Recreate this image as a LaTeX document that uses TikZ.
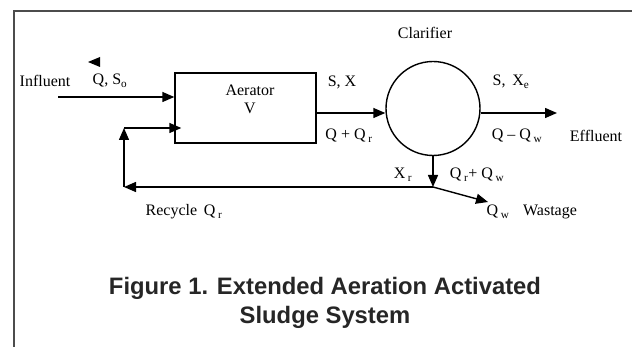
\documentclass[tikz,border=0pt]{standalone}
\usepackage{fontspec}
\setmainfont{Liberation Serif}
\newfontfamily\titlefont{Liberation Sans}
\usetikzlibrary{arrows.meta}
\tikzset{
  flow/.style={-{Triangle[length=12pt,width=10pt]}, line width=1.4pt},
  lbl/.style={font=\fontsize{16}{18}\selectfont, inner sep=0pt},
}
\begin{document}
\begin{tikzpicture}[x=1pt,y=-1pt]
\useasboundingbox (0,0) rectangle (632,347);
\draw[line width=1.8pt, black!70] (14,347) -- (14,11) -- (632,11);
% units
\node[draw, line width=1.4pt, minimum width=141pt, minimum height=70pt] (aer) at (245.5,108) {};
\node[lbl, align=center] (aertxt) at (250,99) {Aerator\\V};
\node[draw, circle, line width=1.4pt, minimum size=94pt, inner sep=0pt] (clar) at (433,108.5) {};
\node[lbl] (clartxt) at (425,33) {Clarifier};
% labels
\node[lbl] (inftxt) at (45,81) {Influent};
\node[lbl] (qs) at (110,81) {Q, S\textsubscript{o}};
\node[lbl] (sx) at (342,82) {S, X};
\node[lbl] (qqr) at (349,136) {Q + Q\,\textsubscript{r}};
\node[lbl] (sxe) at (511,82) {S,\, X\textsubscript{e}};
\node[lbl] (qqw) at (517,136) {Q -- Q\,\textsubscript{w}};
\node[lbl] (efftxt) at (596,136) {Effluent};
\node[lbl] (xr) at (403,175) {X\,\textsubscript{r}};
\node[lbl] (qrqw) at (477,175) {Q\,\textsubscript{r}+ Q\,\textsubscript{w}};
\node[lbl] (qw) at (498,212) {Q\,\textsubscript{w}};
\node[lbl] (wsttxt) at (550,212) {Wastage};
\node[lbl] (rectxt) at (184,212) {Recycle\, Q\,\textsubscript{r}};
\node[font=\titlefont\bfseries\fontsize{23.8}{29}\selectfont, text=black!85, align=center] (title) at (325,303) {Figure 1. Extended Aeration Activated\\Sludge System};
% flows
\coordinate (inf) at (58,97);
\coordinate (eff) at (557,113);
\coordinate (jn) at (433,187);
\coordinate (rc) at (124,187);
\coordinate (rt) at (124,128);
\coordinate (wst) at (488,202);
\fill (88,62) -- (100,57) -- (100,67) -- cycle;
\draw[flow] (inf) -- (aer.west |- inf);
\draw[flow] (aer.east |- 0,113) -- (clar.west |- 0,113);
\draw[flow] (clar.east |- 0,113) -- (eff);
\draw[flow] (clar.south) -- (jn);
\draw[flow] (jn) -- (rc);
\draw[flow] (rc) -- (rt);
\draw[flow] (rt) -- ([xshift=7pt]aer.west |- rt);
\draw[flow] (jn) -- (wst);
\end{tikzpicture}
\end{document}
